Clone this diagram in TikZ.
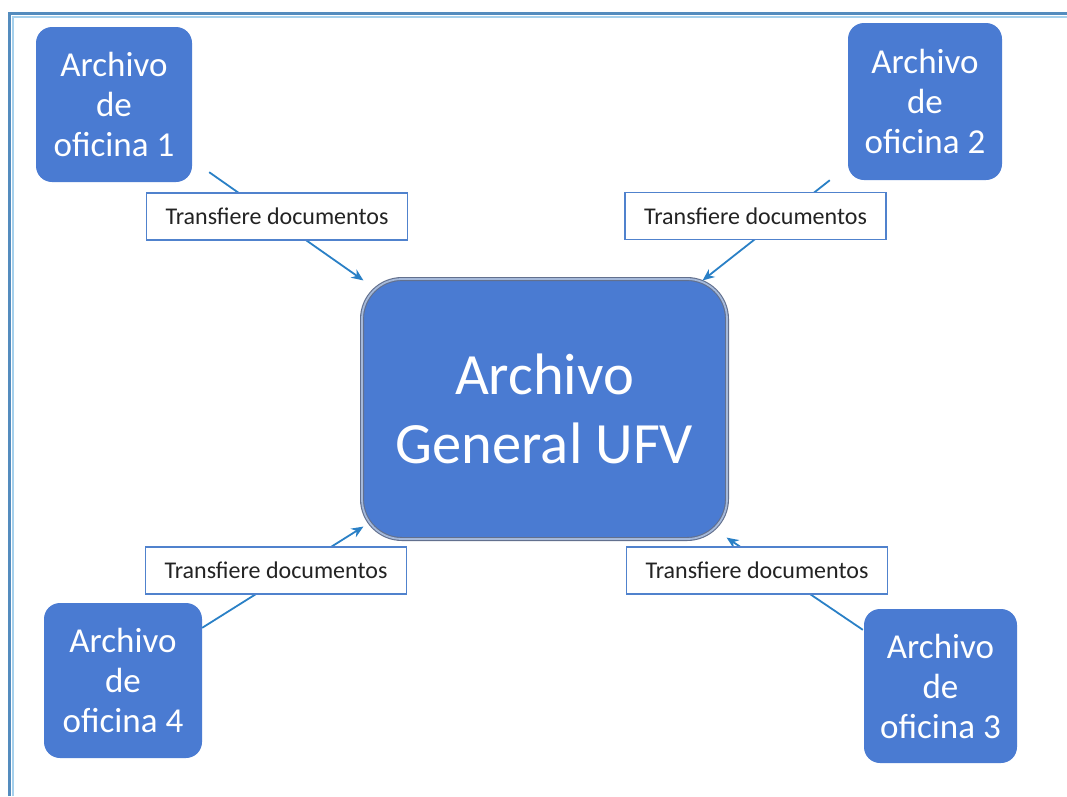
\documentclass[tikz,border=0pt]{standalone}
\usepackage{fontspec}
\setmainfont{Carlito}
\usetikzlibrary{arrows.meta}
\definecolor{boxblue}{RGB}{74,123,210}
\definecolor{linkblue}{RGB}{42,128,198}
\definecolor{lblborder}{RGB}{80,130,205}
\definecolor{frameout}{RGB}{84,140,190}
\definecolor{framein}{RGB}{165,208,236}
\definecolor{ringout}{RGB}{98,112,142}
\definecolor{ringin}{RGB}{165,185,218}
\definecolor{txtdark}{RGB}{35,35,35}
\tikzset{
  office/.style={fill=boxblue, rounded corners=16pt, text=white, align=center,
    inner sep=0pt, font=\fontsize{35}{40}\selectfont},
  central/.style={fill=boxblue, rounded corners=40pt, text=white, align=center,
    inner sep=0pt, draw=ringout, line width=1.1pt, double=ringin, double distance=1.8pt,
    minimum width=365pt, minimum height=260pt, font=\fontsize{58.5}{69}\selectfont},
  lbl/.style={fill=white, draw=lblborder, line width=1.4pt, text=txtdark,
    minimum width=261pt, minimum height=47pt, inner sep=0pt,
    font=\fontsize{24}{28}\selectfont},
  conn/.style={draw=linkblue, line width=1.8pt, -{Stealth[length=12pt,width=10pt]}},
}
\begin{document}
\begin{tikzpicture}[x=1pt,y=-1pt]
\useasboundingbox (0,0) rectangle (1067,796);
% frame
\draw[frameout, line width=3pt] (9,796) -- (9,13.5) -- (1067,13.5);
\draw[framein, line width=2pt] (12.8,796) -- (12.8,17.3) -- (1067,17.3);
% nodes
\node[central] (c) at (544.5,409) {Archivo\\General UFV};
\node[office, minimum width=156pt, minimum height=155pt] (o1) at (114,104.5) {Archivo\\de\\oficina 1};
\node[office, minimum width=154pt, minimum height=157pt] (o2) at (925,101.5) {Archivo\\de\\oficina 2};
\node[office, minimum width=153pt, minimum height=154pt] (o3) at (940.5,686) {Archivo\\de\\oficina 3};
\node[office, minimum width=158pt, minimum height=155pt] (o4) at (123,680.5) {Archivo\\de\\oficina 4};
% connectors
\draw[conn] ([shift={(17,-10)}]o1.south east) -- ([shift={(2,2)}]c.north west);
\draw[conn] ([shift={(-18,0)}]o2.south west) -- ([shift={(-25,2)}]c.north east);
\draw[conn] ([shift={(-1,21)}]o3.north west) -- ([shift={(-1,-2)}]c.south east);
\draw[conn] ([shift={(0,25)}]o4.north east) -- ([shift={(2,-13)}]c.south west);
% labels
\node[lbl] (l1) at (277,216.5) {Transfiere documentos};
\node[lbl] (l2) at (755.5,216) {Transfiere documentos};
\node[lbl] (l3) at (757,570.5) {Transfiere documentos};
\node[lbl] (l4) at (276,570.5) {Transfiere documentos};
\end{tikzpicture}
\end{document}
